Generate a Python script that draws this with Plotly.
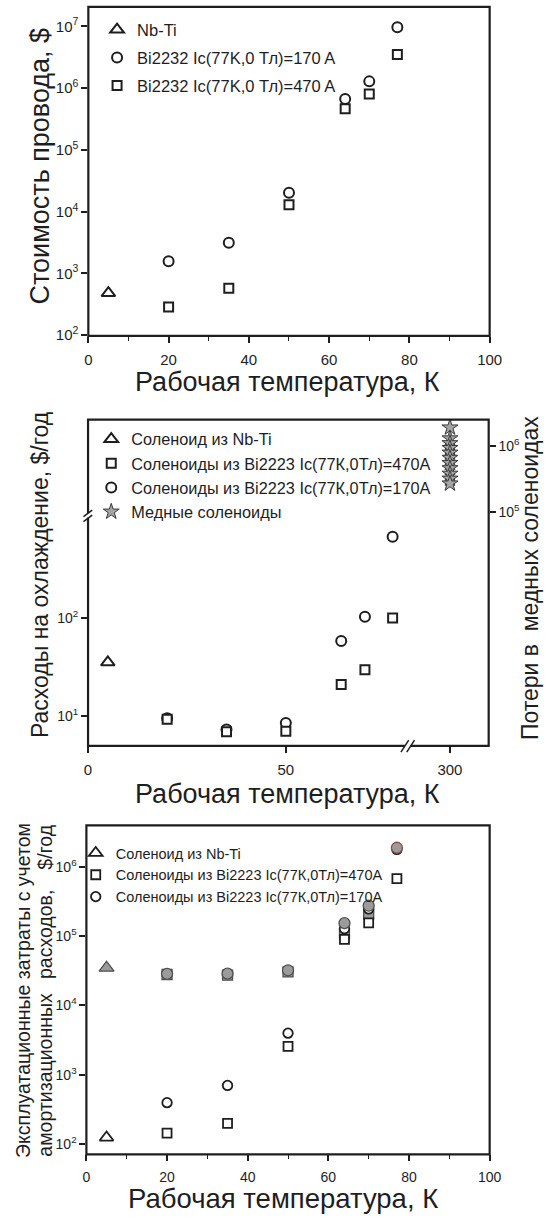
import plotly.graph_objects as go

W, H = 555, 1225
FONT = "Liberation Sans, Arial, sans-serif"
INK = "#1e1e1e"

# ---------------- data ----------------
# Panel 1: wire cost, $
T_nbti = [5]
T_bi = [20, 35, 50, 64, 70, 77]
p1_nbti = [481]
p1_bi170 = [1580, 3150, 20300, 670000, 1.29e6, 9.75e6]
p1_bi470 = [287, 578, 12900, 464000, 807000, 3.52e6]

# Panel 2: cooling cost, $/year ; copper solenoid losses
p2_nbti = [35.1]
p2_bi470 = [9.25, 6.9, 7.0, 20.9, 29.6, 99]
p2_bi170 = [9.5, 7.3, 8.5, 57.7, 102, 664]
T_cu = [300] * 11
p2_cu = [1.9e6, 1.3e6, 1.1e6, 9.3e5, 7.9e5, 6.6e5, 5.5e5, 4.6e5, 3.8e5, 3.2e5, 2.7e5]

# Panel 3: operating costs incl. amortization, $/year
p3_nbti = [124]
p3_nbti_tot = [34600]
p3_bi470 = [144, 198, 2560, 89000, 154000, 673000]
p3_bi170 = [395, 700, 3970, 127000, 245000, 1.77e6]
T_tot470 = [20, 35, 50, 64, 70]
p3_bi470_tot = [27800, 27200, 30300, 107000, 207000]
p3_bi170_tot = [28400, 28600, 32000, 153000, 273000, 1.87e6]

# tick labels
x_ticks = [0, 20, 40, 60, 80, 100]
x_ticktext = ["0", "20", "40", "60", "80", "100"]
x_minor = [10, 30, 50, 70, 90]
y1_ticks = [1e2, 1e3, 1e4, 1e5, 1e6, 1e7]
y1_text = ["10<sup>2</sup>", "10<sup>3</sup>", "10<sup>4</sup>", "10<sup>5</sup>", "10<sup>6</sup>", "10<sup>7</sup>"]
x2_ticks = [0, 50]
x2_text = ["0", "50"]
x3_ticks = [300]
x3_text = ["300"]
y2_ticks = [1e1, 1e2]
y2_text = ["10<sup>1</sup>", "10<sup>2</sup>"]
y3_ticks = [1e5, 1e6]
y3_text = ["10<sup>5</sup>", "10<sup>6</sup>"]
y5_ticks = [1e2, 1e3, 1e4, 1e5, 1e6]
y5_text = ["10<sup>2</sup>", "10<sup>3</sup>", "10<sup>4</sup>", "10<sup>5</sup>", "10<sup>6</sup>"]

leg1 = ["Nb-Ti", "Bi2232 Ic(77K,0 Тл)=170 A", "Bi2232 Ic(77K,0 Тл)=470 A"]
leg2 = ["Соленоид из Nb-Ti", "Соленоиды из Bi2223 Ic(77К,0Тл)=470А",
        "Соленоиды из Bi2223 Ic(77К,0Тл)=170А", "Медные соленоиды"]
leg3 = ["Соленоид из Nb-Ti", "Соленоиды из Bi2223 Ic(77К,0Тл)=470А",
        "Соленоиды из Bi2223 Ic(77К,0Тл)=170А"]

xtitle = "Рабочая температура, К"


def px(x):
    return x / W


def py(y):
    return 1 - y / H


def openm(symbol, size, lw=2.0):
    return dict(symbol=symbol, size=size, color="white", line=dict(color=INK, width=lw))


def graym(symbol, size, edge="#505050"):
    return dict(symbol=symbol, size=size, color="#9b9b9b", line=dict(color=edge, width=1.3))


fig = go.Figure()

# ---- panel 1 ----
fig.add_trace(go.Scatter(x=T_nbti, y=p1_nbti, mode="markers", name=leg1[0], xaxis="x", yaxis="y",
                         marker=openm("triangle-up", 12), legend="legend", legendgroup="a1"))
fig.add_trace(go.Scatter(x=T_bi, y=p1_bi170, mode="markers", name=leg1[1], xaxis="x", yaxis="y",
                         marker=openm("circle", 10), legend="legend", legendgroup="b1"))
fig.add_trace(go.Scatter(x=T_bi, y=p1_bi470, mode="markers", name=leg1[2], xaxis="x", yaxis="y",
                         marker=openm("square", 9), legend="legend", legendgroup="c1"))

# ---- panel 2 ----
fig.add_trace(go.Scatter(x=T_nbti, y=p2_nbti, mode="markers", name=leg2[0], xaxis="x2", yaxis="y2",
                         marker=openm("triangle-up", 12), legend="legend2", legendrank=1))
fig.add_trace(go.Scatter(x=T_bi, y=p2_bi170, mode="markers", name=leg2[2], xaxis="x2", yaxis="y2",
                         marker=openm("circle", 10), legend="legend2", legendrank=3))
fig.add_trace(go.Scatter(x=T_bi, y=p2_bi470, mode="markers", name=leg2[1], xaxis="x2", yaxis="y2",
                         marker=openm("square", 9), legend="legend2", legendrank=2))
fig.add_trace(go.Scatter(x=T_cu, y=p2_cu, mode="markers", name=leg2[3], xaxis="x3", yaxis="y3",
                         marker=dict(symbol="star", size=12, color="#a5a5a5",
                                     line=dict(color="#3a3a3a", width=1.0)),
                         legend="legend2", legendrank=4))

# ---- panel 3 ----
fig.add_trace(go.Scatter(x=T_tot470, y=p3_bi470_tot, mode="markers", showlegend=False, xaxis="x4", yaxis="y5",
                         marker=graym("square", 10)))
fig.add_trace(go.Scatter(x=T_bi, y=p3_bi470, mode="markers", name=leg3[1], xaxis="x4", yaxis="y5",
                         marker=openm("square", 9, 1.8), legend="legend3", legendrank=2))
fig.add_trace(go.Scatter(x=T_bi, y=p3_bi170, mode="markers", name=leg3[2], xaxis="x4", yaxis="y5",
                         marker=openm("circle", 9.5, 1.8), legend="legend3", legendrank=3))
fig.add_trace(go.Scatter(x=T_nbti, y=p3_nbti, mode="markers", name=leg3[0], xaxis="x4", yaxis="y5",
                         marker=openm("triangle-up", 12, 1.8), legend="legend3", legendrank=1))
fig.add_trace(go.Scatter(x=T_nbti, y=p3_nbti_tot, mode="markers", showlegend=False, xaxis="x4", yaxis="y5",
                         marker=graym("triangle-up", 13)))
fig.add_trace(go.Scatter(x=T_bi, y=p3_bi170_tot, mode="markers", showlegend=False, xaxis="x4", yaxis="y5",
                         marker=graym("circle", 11, ["#505050"] * 5 + ["#8a4a4a"])))

tickfont15 = dict(family=FONT, size=15, color=INK)
tickfont14 = dict(family=FONT, size=14, color=INK)
common = dict(showgrid=False, zeroline=False, showline=False, ticks="outside", tickcolor=INK,
              tickwidth=1.6, ticklen=6)
minor = dict(tickvals=x_minor, ticks="outside", ticklen=4, tickwidth=1.2, tickcolor=INK)

fig.update_layout(
    width=W, height=H, margin=dict(l=0, r=0, t=0, b=0),
    paper_bgcolor="white", plot_bgcolor="rgba(0,0,0,0)",
    font=dict(family=FONT, color=INK),
    xaxis=dict(domain=[px(87), px(501)], anchor="y", range=[0, 100], tickvals=x_ticks,
               ticktext=x_ticktext, tickfont=tickfont15, minor=minor, ticklabelstandoff=4, **common),
    yaxis=dict(domain=[py(338), py(7)], anchor="x", type="log", range=[1.99, 7.316],
               tickvals=y1_ticks, ticktext=y1_text, tickfont=tickfont15, **common),
    xaxis2=dict(domain=[px(86.7), px(416)], anchor="y2", range=[0, 80.7], tickvals=x2_ticks,
                ticktext=x2_text, tickfont=tickfont15, ticklabelstandoff=4, **common),
    yaxis2=dict(domain=[py(750.7), py(518)], anchor="x2", type="log", range=[0.697, 3.047],
                tickvals=y2_ticks, ticktext=y2_text, tickfont=tickfont14, **common),
    xaxis3=dict(domain=[px(416), px(500)], anchor="free", position=py(750.7), range=[289.2, 309.8],
                tickvals=x3_ticks, ticktext=x3_text, tickfont=tickfont15, ticklabelstandoff=4, **common),
    yaxis3=dict(domain=[py(518), py(422.3)], anchor="x3", side="right", type="log", range=[4.962, 6.40],
                tickvals=y3_ticks, ticktext=y3_text, tickfont=tickfont14, **common),
    yaxis4=dict(overlaying="y3", anchor="free", position=px(86.7), side="left", type="log",
                range=[4.962, 6.40], tickvals=y3_ticks, ticktext=y3_text, tickfont=tickfont14, **common),
    xaxis4=dict(domain=[px(85), px(501)], anchor="y5", range=[0, 100], tickvals=x_ticks,
                ticktext=x_ticktext, tickfont=tickfont14, minor=minor, ticklabelstandoff=4, **common),
    yaxis5=dict(domain=[py(1162), py(830.7)], anchor="x4", type="log", range=[1.85, 6.596],
                tickvals=y5_ticks, ticktext=y5_text, tickfont=tickfont14, **common),
    legend=dict(x=px(96), y=py(12.4), xanchor="left", yanchor="top", bgcolor="rgba(0,0,0,0)",
                font=dict(family=FONT, size=16.5, color=INK), traceorder="grouped", tracegroupgap=3.5),
    legend2=dict(x=px(90), y=py(424.8), xanchor="left", yanchor="top", bgcolor="rgba(0,0,0,0)",
                 font=dict(family=FONT, size=16.3, color=INK), traceorder="normal"),
    legend3=dict(x=px(74), y=py(842.5), xanchor="left", yanchor="top", bgcolor="rgba(0,0,0,0)",
                 font=dict(family=FONT, size=14.5, color=INK), traceorder="normal"),
    showlegend=True,
)

shapes = []


def rect(x0, y0, x1, y1):
    shapes.append(dict(type="rect", xref="paper", yref="paper", x0=px(x0), x1=px(x1), y0=py(y1), y1=py(y0),
                       line=dict(color=INK, width=2.2), fillcolor="rgba(0,0,0,0)", layer="above"))


def seg(x0, y0, x1, y1, w=1.5, color=INK):
    shapes.append(dict(type="line", xref="paper", yref="paper", x0=px(x0), x1=px(x1), y0=py(y0), y1=py(y1),
                       line=dict(color=color, width=w), layer="above"))


def white(x0, y0, x1, y1):
    shapes.append(dict(type="rect", xref="paper", yref="paper", x0=px(x0), x1=px(x1), y0=py(y1), y1=py(y0),
                       line=dict(width=0), fillcolor="white", layer="above"))


rect(87, 7, 501, 338)
rect(86.7, 422.3, 500, 750.7)
rect(85, 830.7, 501, 1162)
# axis breaks (panel 2)
white(84, 516.5, 90, 521)
seg(82, 520, 91, 513.5)
seg(82, 525, 91, 518.5)
white(413.5, 748, 419.5, 753.5)
seg(409.5, 757, 417.5, 745)
seg(415.5, 757, 423.5, 745)
fig.update_layout(shapes=shapes)

ann = []


def text(x, y, s, size, angle=0):
    ann.append(dict(x=px(x), y=py(y), xref="paper", yref="paper", text=s, showarrow=False,
                    textangle=angle, xanchor="center", yanchor="middle",
                    font=dict(family=FONT, size=size, color=INK)))


text(292, 385, xtitle, 27)
text(292, 799, xtitle, 27)
text(288, 1206, xtitle, 27.5)
text(37, 166.7, "Стоимость провода, $", 27, -90)
text(37, 578, "Расходы на охлаждение, $/год", 23, -90)
text(542, 581.5, "Потери в  медных соленоидах", 23, -90)
text(19.5, 996.5, "Эксплуатационные затраты с учетом", 19.5, -90)
text(42.5, 1081.5, "амортизационных", 19.5, -90)
text(42.5, 941, "расходов,", 19.5, -90)
text(42.5, 853, "$/год", 19.5, -90)
fig.update_layout(annotations=ann)

fig.write_html("out.html", config={"displayModeBar": False},
               post_script="document.body.style.margin='0px';document.body.style.overflow='hidden';")
